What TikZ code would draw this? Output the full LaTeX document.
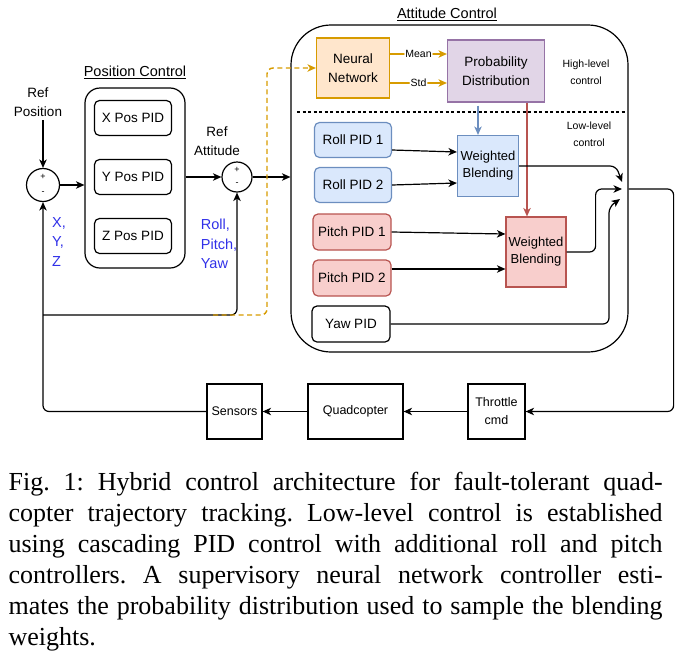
\documentclass[tikz,border=0pt]{standalone}
\usepackage{fontspec}
\setmainfont{Liberation Serif}
\setsansfont{Liberation Sans}
\usetikzlibrary{arrows.meta}
\definecolor{nnfill}{HTML}{FFE6CC}
\definecolor{nnline}{HTML}{D79B00}
\definecolor{pdfill}{HTML}{E1D5E7}
\definecolor{pdline}{HTML}{9673A6}
\definecolor{rollfill}{HTML}{DAE8FC}
\definecolor{rollline}{HTML}{6C8EBF}
\definecolor{pitchfill}{HTML}{F8CECC}
\definecolor{pitchline}{HTML}{B85450}
\definecolor{axisblue}{HTML}{3030E8}

\begin{document}
\begin{tikzpicture}[x=1pt,y=-1pt,line width=1.2pt,
		font=\sffamily\fontsize{13.5}{19}\selectfont,
		arr/.style={-{Stealth[length=8.5pt,width=7.5pt,inset=2.5pt]},rounded corners=6pt},
		group/.style={draw,inner sep=0pt},
		grouptitle/.style={font=\sffamily\fontsize{14.5}{17}\selectfont},
		pidbox/.style={draw,rounded corners=5pt,minimum width=77pt,minimum height=35pt,inner sep=1pt},
		rollbox/.style={pidbox,fill=rollfill,draw=rollline},
		pitchbox/.style={pidbox,fill=pitchfill,draw=pitchline,minimum width=78pt,minimum height=36pt},
		blendbox/.style={draw,align=center,inner sep=1pt,font=\sffamily\fontsize{13}{17}\selectfont},
		hlbox/.style={draw,align=center,inner sep=1pt},
		plantbox/.style={draw,align=center,minimum height=55pt,inner sep=1pt,font=\sffamily\fontsize{12.5}{18}\selectfont},
		sumnode/.style={draw,circle,inner sep=0pt},
		sign/.style={inner sep=0pt,font=\sffamily\fontsize{9}{9}\selectfont},
		axislbl/.style={text=axisblue,align=left,inner sep=0pt,font=\sffamily\fontsize{14.5}{19.5}\selectfont},
		note/.style={align=center,inner sep=0pt,font=\sffamily\fontsize{10.5}{17}\selectfont},
		flowlbl/.style={fill=white,inner sep=1pt,font=\sffamily\fontsize{10.5}{12}\selectfont},
		caption/.style={anchor=north west,inner sep=0pt,text width=654pt,align=justify,
			font=\rmfamily\fontsize{26}{31}\selectfont\frenchspacing}]
	\useasboundingbox (0,0) rectangle (682,664);

	\node[grouptitle] at (135,72) {\underline{Position Control}};
	\node[group,rounded corners=15pt,minimum width=100pt,minimum height=180pt] (posgrp) at (135,178) {};
	\node[pidbox] (xpid) at (133,118) {X Pos PID};
	\node[pidbox] (ypid) at (133,177) {Y Pos PID};
	\node[pidbox] (zpid) at (133,236) {Z Pos PID};

	\node[sumnode,minimum size=33pt] (sum1) at (43,185) {};
	\node[sign] at ([yshift=8pt]sum1.center) {+};
	\node[sign] at ([yshift=-8pt]sum1.center) {-};
	\node[align=center] (refpos) at (38,102) {Ref\\Position};
	\node[axislbl] (xyz) at (59,242) {X,\\Y,\\Z};

	\node[sumnode,minimum size=30pt] (sum2) at (237,177) {};
	\node[sign] at ([yshift=7pt]sum2.center) {+};
	\node[sign] at ([yshift=-7pt]sum2.center) {-};
	\node[align=center] (refatt) at (217,141) {Ref\\Attitude};
	\node[axislbl] (rpy) at (219,244) {Roll,\\Pitch,\\Yaw};

	\node[grouptitle] at (447,14) {\underline{Attitude Control}};
	\node[group,rounded corners=40pt,minimum width=337pt,minimum height=327pt] (attgrp) at (459.5,188.5) {};
	\node[hlbox,fill=nnfill,draw=nnline,minimum width=73pt,minimum height=60pt] (nn) at (353,68) {Neural\\Network};
	\node[hlbox,fill=pdfill,draw=pdline,minimum width=97pt,minimum height=62pt] (pd) at (496,71) {Probability\\Distribution};
	\node[note] at (586,72) {High-level\\control};
	\draw[dash pattern=on 3pt off 2.5pt] (297,112) -- (625,112);
	\node[note] at (589,134) {Low-level\\control};

	\node[rollbox] (roll1) at (353,140) {Roll PID 1};
	\node[rollbox] (roll2) at (353,185) {Roll PID 2};
	\node[blendbox,fill=rollfill,draw=rollline,minimum width=61pt,minimum height=61pt] (wb1) at (488,166) {Weighted\\Blending};
	\node[pitchbox] (pitch1) at (352,232) {Pitch PID 1};
	\node[pitchbox] (pitch2) at (352,278) {Pitch PID 2};
	\node[blendbox,fill=pitchfill,draw=pitchline,minimum width=60pt,minimum height=70pt] (wb2) at (536,252) {Weighted\\Blending};
	\node[pidbox,minimum width=78pt,minimum height=36pt] (yaw) at (351,324) {Yaw PID};

	\node[plantbox,minimum width=55pt] (sens) at (234.5,411.5) {Sensors};
	\node[plantbox,minimum width=95pt] (quad) at (355.5,411.5) {Quadcopter};
	\node[plantbox,minimum width=57pt] (thr) at (496.5,411.5) {Throttle\\cmd};

	\coordinate (mixa) at (622,182);
	\coordinate (mixb) at (622,189);
	\coordinate (mixc) at (620,199);
	\coordinate (fb) at (43,315);
	\coordinate (nnin) at (213,315);

	\draw[arr] (refpos.south -| sum1) -- (sum1.north);
	\draw[arr] (sum1.east) -- (sum1 -| posgrp.west);
	\draw[arr] (posgrp.east |- sum2) -- (sum2.west);
	\draw[arr] (sum2.east) -- (sum2 -| attgrp.west);

	\draw[arr,draw=nnline] ([yshift=14pt]nn.east) -- ([yshift=14pt]nn.east -| pd.west) node[midway,flowlbl] {Mean};
	\draw[arr,draw=nnline] ([yshift=-15pt]nn.east) -- ([yshift=-15pt]nn.east -| pd.west) node[midway,flowlbl] {Std};
	\draw[arr,draw=rollline] ([xshift=-18pt,yshift=-3pt]pd.south) -- ([xshift=-10pt]wb1.north);
	\draw[arr,draw=pitchline] ([xshift=31pt]pd.south) -- ([xshift=-9pt]wb2.north);

	\draw[arr] ([yshift=-10pt]roll1.east) -- ([yshift=14pt]wb1.west);
	\draw[arr] (roll2.east) -- ([yshift=-17pt]wb1.west);
	\draw[arr] (pitch1.east) -- ([yshift=18pt]wb2.west);
	\draw[arr] ([yshift=9pt]pitch2.east) -- ([yshift=-17pt]wb2.west);

	\draw[arr] (wb1.east) -- ++(97,0) -- (mixa);
	\draw[arr] (wb2.east) -- ++(29,0) |- (mixb);
	\draw[arr] (yaw.east) -| ([xshift=-11pt,yshift=-8pt]mixc) -- (mixc);

	\draw[arr] (attgrp.east |- mixb) -- ++(45,0) |- (thr.east);
	\draw[arr] (thr.west) -- (quad.east);
	\draw[arr] (quad.west) -- (sens.east);
	\draw[arr] (sens.west) -| (sum1.south);
	\draw[arr] (fb) -| (sum2.south);
	\draw[arr,draw=nnline,dash pattern=on 5pt off 3.5pt,line width=1.4pt] (nnin) -- ++(54,0) |- (nn.west);

	\node[caption] (cap) at (8,472) {\noindent Fig.~1: Hybrid control architecture for fault-tolerant quad-\linebreak
		copter trajectory tracking. Low-level control is established\linebreak
		using cascading PID control with additional roll and pitch\linebreak
		controllers. A supervisory neural network controller esti-\linebreak
		mates the probability distribution used to sample the blending\linebreak
		weights.};
\end{tikzpicture}
\end{document}
